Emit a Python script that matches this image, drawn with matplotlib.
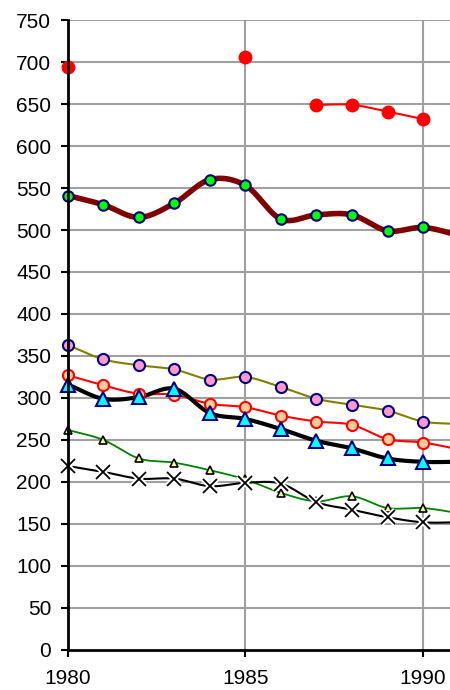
import numpy as np
import matplotlib
matplotlib.use("Agg")
import matplotlib.pyplot as plt

plt.rcParams['font.family'] = ['Liberation Sans', 'DejaVu Sans']

years = [1980, 1981, 1982, 1983, 1984, 1985, 1986, 1987, 1988, 1989, 1990, 1991]

# isolated / partial red series
red_top_years = [1980, 1985, 1987, 1988, 1989, 1990]
red_top = [694, 706, 649, 649, 641, 632]

maroon = [541, 530, 515, 532, 560, 553, 513, 518, 518, 499, 503, 494]
olive = [363, 346, 339, 334, 322, 325, 313, 299, 292, 285, 272, 269]
red = [327, 315, 305, 304, 293, 289, 279, 272, 268, 251, 247, 239]
black = [316, 299, 301, 311, 282, 275, 263, 249, 240, 228, 224, 224]
green = [262, 250, 228, 223, 214, 203, 187, 177, 183, 169, 169, 163]
cross = [219, 212, 204, 204, 195, 199, 198, 176, 167, 158, 152, 152]

yticks = list(range(0, 751, 50))
xticks = [1980, 1985, 1990]


def smooth(x, y, n=20):
    x = np.asarray(x, float)
    y = np.asarray(y, float)
    if len(x) < 3:
        return x, y
    px = np.concatenate([[2 * x[0] - x[1]], x, [2 * x[-1] - x[-2]]])
    py = np.concatenate([[2 * y[0] - y[1]], y, [2 * y[-1] - y[-2]]])
    xs, ys = [], []
    for i in range(1, len(px) - 2):
        t = np.linspace(0, 1, n, endpoint=False)
        for arr, out in ((px, xs), (py, ys)):
            p0, p1, p2, p3 = arr[i - 1], arr[i], arr[i + 1], arr[i + 2]
            out.extend(0.5 * ((2 * p1) + (-p0 + p2) * t + (2 * p0 - 5 * p1 + 4 * p2 - p3) * t ** 2
                              + (-p0 + 3 * p1 - 3 * p2 + p3) * t ** 3))
    xs.append(x[-1]); ys.append(y[-1])
    return np.array(xs), np.array(ys)


fig = plt.figure(figsize=(4.5, 6.9), dpi=100)
ax = fig.add_axes([0.151, 0.058, 0.849, 0.913])

ax.set_xlim(1980, 1990.76)
ax.set_ylim(0, 750)
ax.set_yticks(yticks)
ax.set_xticks(xticks)
ax.set_xticklabels([str(v) for v in xticks])

for yv in yticks[1:]:
    ax.axhline(yv, color='#a0a0a0', lw=1.5, zorder=0)
for xv in xticks[1:]:
    ax.axvline(xv, color='#a0a0a0', lw=1.5, zorder=0)

# series lines (smoothed)
def line(y, color, lw, z):
    sx, sy = smooth(years, y)
    ax.plot(sx, sy, color=color, lw=lw, zorder=z, solid_capstyle='butt')

line(maroon, '#800000', 4.0, 2)
line(olive, '#808000', 1.5, 2)
line(red, '#ff0000', 1.5, 2)
line(black, '#000000', 3.0, 2)
line(green, '#008000', 1.3, 2)
line(cross, '#000000', 1.5, 2)

# red partial series: line only for consecutive years 1987-1990
sx, sy = smooth(red_top_years[2:], red_top[2:])
ax.plot(sx, sy, color='#ff0000', lw=1.5, zorder=2)
ax.plot(red_top_years, red_top, ls='none', marker='o', ms=9, mfc='#ff0000', mec='#ff0000', zorder=5, clip_on=False)

ny = years[:-1]
ax.plot(ny, maroon[:-1], ls='none', marker='o', ms=7.5, mfc='#00ff00', mec='#000080', mew=1.5, zorder=5, clip_on=False)
ax.plot(ny, olive[:-1], ls='none', marker='o', ms=8, mfc='#ff99cc', mec='#000080', mew=1.5, zorder=5, clip_on=False)
ax.plot(ny, red[:-1], ls='none', marker='o', ms=8, mfc='#ffcc99', mec='#ff0000', mew=1.5, zorder=5, clip_on=False)
ax.plot(ny, black[:-1], ls='none', marker='^', ms=10, mfc='#00ffff', mec='#000080', mew=1.5, zorder=5, clip_on=False)
ax.plot(ny, green[:-1], ls='none', marker='^', ms=6, mfc='#ffff99', mec='#000000', mew=1.2, zorder=5, clip_on=False)
ax.plot(ny, cross[:-1], ls='none', marker='x', ms=10, mfc='none', mec='white', mew=4, zorder=6, clip_on=False)
ax.plot(ny, cross[:-1], ls='none', marker='x', ms=10, mfc='none', mec='black', mew=1.3, zorder=7, clip_on=False)

for s in ['top', 'right']:
    ax.spines[s].set_visible(False)
for s in ['left', 'bottom']:
    ax.spines[s].set_linewidth(2)
    ax.spines[s].set_color('black')
    ax.spines[s].set_zorder(8)

ax.tick_params(axis='both', direction='out', length=5, width=1.5, labelsize=15, colors='black')
ax.tick_params(axis='x', pad=9)
ax.tick_params(axis='y', pad=7)

fig.savefig('out.png', dpi=100)
